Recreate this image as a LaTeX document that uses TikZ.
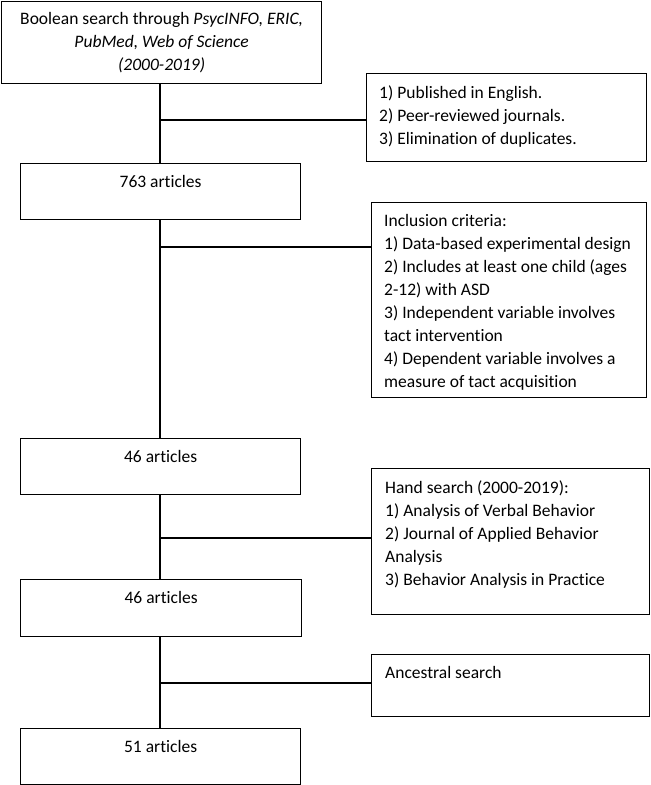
\documentclass[tikz,border=0pt]{standalone}
\usepackage{fontspec}
\setmainfont[Ligatures=NoCommon]{Carlito}
\begin{document}
\begin{tikzpicture}[x=1pt,y=-1pt,
  box/.style={draw, line width=1.2pt, inner sep=0pt, anchor=north west},
  txt/.style={inner sep=0pt, align=left, anchor=north west, font=\fontsize{17.5}{23}\selectfont},
  ctxt/.style={inner sep=0pt, align=center, anchor=north, font=\fontsize{17.5}{23}\selectfont},
  conn/.style={line width=1.2pt}]
\useasboundingbox (0,0) rectangle (651,785);
% left column boxes
\node[box, minimum width=320pt, minimum height=82pt] (b1) at (1,1) {};
\node[box, minimum width=280pt, minimum height=56pt] (b2) at (20,163) {};
\node[box, minimum width=280pt, minimum height=56pt] (b3) at (20,438) {};
\node[box, minimum width=281pt, minimum height=57pt] (b4) at (20,579) {};
\node[box, minimum width=280pt, minimum height=56pt] (b5) at (20,728) {};
% right column boxes
\node[box, minimum width=280pt, minimum height=88pt] (r1) at (366,73) {};
\node[box, minimum width=275pt, minimum height=195pt] (r2) at (371,202) {};
\node[box, minimum width=278pt, minimum height=146pt] (r3) at (371,468) {};
\node[box, minimum width=278pt, minimum height=62pt] (r4) at (371,654) {};
% texts
\node[ctxt] (t1) at ([yshift=-11pt]b1.north) {Boolean search through \textit{PsycINFO, ERIC,}\\\textit{PubMed, Web of Science}\\\textit{(2000-2019)}};
\node[ctxt] (t2) at ([yshift=-12pt]b2.north) {763 articles};
\node[ctxt] (t3) at ([yshift=-12pt]b3.north) {46 articles};
\node[ctxt] (t4) at ([yshift=-12pt]b4.north) {46 articles};
\node[ctxt] (t5) at ([yshift=-12pt]b5.north) {51 articles};
\node[txt] (s1) at ([xshift=13pt,yshift=-12pt]r1.north west) {1) Published in English.\\2) Peer-reviewed journals.\\3) Elimination of duplicates.};
\node[txt] (s2) at ([xshift=13pt,yshift=-12pt]r2.north west) {Inclusion criteria:\\1) Data-based experimental design\\2) Includes at least one child (ages\\2-12) with ASD\\3) Independent variable involves\\tact intervention\\4) Dependent variable involves a\\measure of tact acquisition};
\node[txt] (s3) at ([xshift=14pt,yshift=-12pt]r3.north west) {Hand search (2000-2019):\\1) Analysis of Verbal Behavior\\2) Journal of Applied Behavior\\Analysis\\3) Behavior Analysis in Practice};
\node[txt] (s4) at ([xshift=14pt,yshift=-12pt]r4.north west) {Ancestral search};
% junctions
\coordinate (j1) at (160,120);
\coordinate (j2) at (160,247);
\coordinate (j3) at (160,538);
\coordinate (j4) at (160,683);
% connectors
\draw[conn] (b1.south -| j1) -- (b2.north -| j1);
\draw[conn] (b2.south -| j1) -- (b3.north -| j1);
\draw[conn] (b3.south -| j1) -- (b4.north -| j1);
\draw[conn] (b4.south -| j1) -- (b5.north -| j1);
\draw[conn] (j1) -- (j1 -| r1.west);
\draw[conn] (j2) -- (j2 -| r2.west);
\draw[conn] (j3) -- (j3 -| r3.west);
\draw[conn] (j4) -- (j4 -| r4.west);
\end{tikzpicture}
\end{document}
